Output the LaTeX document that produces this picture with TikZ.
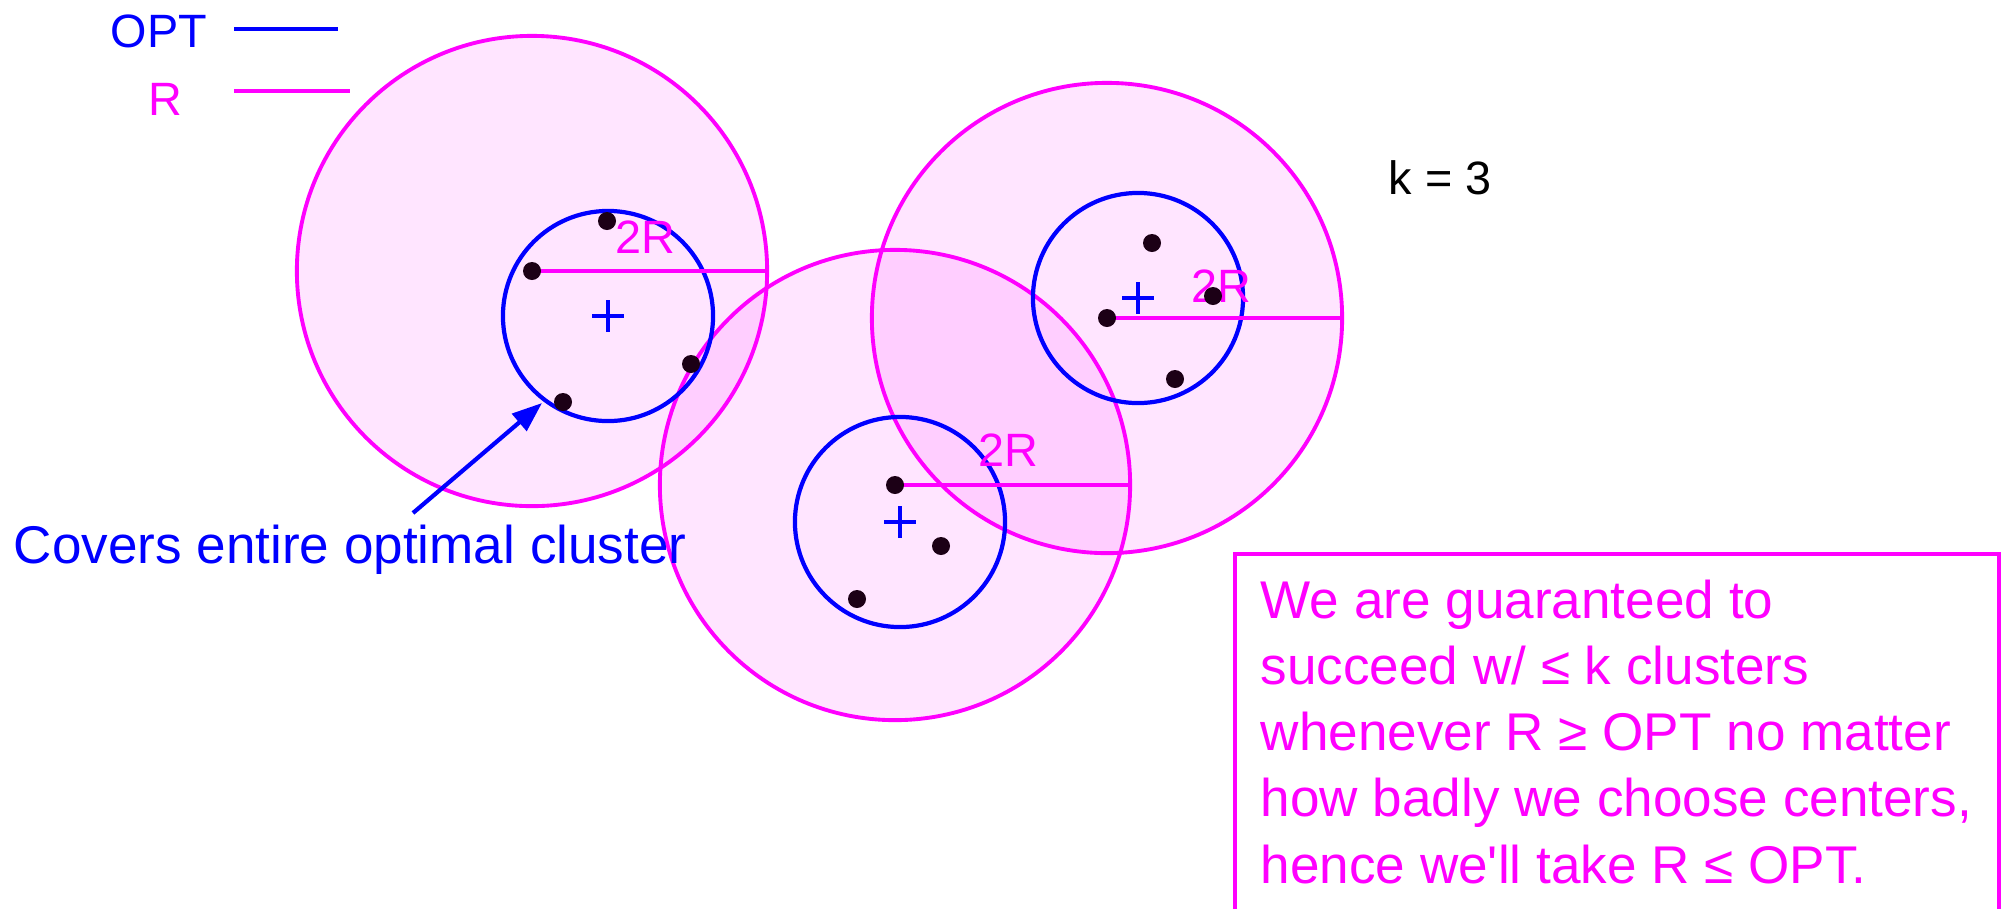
\documentclass[tikz,border=0pt]{standalone}
\usepackage{fontspec}
\setmainfont{Liberation Sans}[Ligatures=TeXReset]
\usetikzlibrary{arrows.meta}
\definecolor{BallMag}{RGB}{255,0,255}
\definecolor{OptBlue}{RGB}{0,0,255}
\definecolor{PtDark}{RGB}{28,0,22}
\tikzset{
  optball/.style={draw=OptBlue, line width=1.2pt},
  datapt/.style={circle, fill=PtDark, inner sep=0pt, minimum size=1.8mm},
  radline/.style={BallMag, line width=1.1pt},
  ctrmark/.style={OptBlue, line width=1pt},
  lblbig/.style={font=\fontsize{15.1}{18.8}\selectfont, inner sep=0pt},
  lblsmall/.style={font=\fontsize{13.3}{16}\selectfont, inner sep=0pt},
  pointer/.style={-{Triangle[length=3mm,width=2.2mm]}, OptBlue, line width=1.2pt},
}
\begin{document}
\begin{tikzpicture}[x=0.01cm, y=-0.01cm]
  \useasboundingbox (0,0) rectangle (2003,908);
  \clip (0,0) rectangle (2003,908);

  % legend
  \node[lblsmall, text=OptBlue, anchor=base west] (legopt) at (110,47) {OPT};
  \node[lblsmall, text=BallMag, anchor=base west] (legr) at (148,115) {R};
  \coordinate (legopta) at (234,29);
  \coordinate (legoptb) at (338,29);
  \coordinate (legra) at (234,91);
  \coordinate (legrb) at (350,91);
  \draw[OptBlue, line width=1.1pt] (legopta) -- (legoptb);
  \draw[BallMag, line width=1.1pt] (legra) -- (legrb);

  % points of the three optimal clusters
  \foreach \n/\px/\py in {a1/607/221, a2/532/271, a3/691/364, a4/563/402,
                          b1/895/485, b2/941/546, b3/857/599,
                          d1/1152/243, d2/1213/296, d3/1107/318, d4/1175/379}{
    \coordinate (\n) at (\px,\py);
  }
  % optimal centers
  \coordinate (c1) at (608,316);
  \coordinate (c2) at (900,522);
  \coordinate (c3) at (1138,298);

  % balls of radius 2R round the chosen points
  \fill[BallMag, opacity=0.1] (a2) circle[radius=2.35cm];
  \fill[BallMag, opacity=0.1] (b1) circle[radius=2.35cm];
  \fill[BallMag, opacity=0.1] (d3) circle[radius=2.35cm];
  \draw[radline] (a2) circle[radius=2.35cm];
  \draw[radline] (b1) circle[radius=2.35cm];
  \draw[radline] (d3) circle[radius=2.35cm];

  % optimal clusters
  \foreach \c in {c1,c2,c3}{
    \draw[optball] (\c) circle[radius=1.05cm];
    \draw[ctrmark] (\c) +(-16,0) -- +(16,0) +(0,-16) -- +(0,16);
  }

  % radii
  \coordinate (r1) at (767,271);
  \coordinate (r2) at (1130,485);
  \coordinate (r3) at (1342,318);
  \draw[radline] (a2) -- (r1);
  \draw[radline] (b1) -- (r2);
  \draw[radline] (d3) -- (r3);
  \node[lblsmall, text=BallMag] (tworone) at (645,237) {2R};
  \node[lblsmall, text=BallMag] (tworb) at (1008,450) {2R};
  \node[lblsmall, text=BallMag] (tworc) at (1221,286) {2R};

  \foreach \n in {a1,a2,a3,a4,b1,b2,b3,d1,d2,d3,d4}{
    \node[datapt] (pt\n) at (\n) {};
  }

  % annotation
  \node[lblbig, text=OptBlue, anchor=base west] (covers) at (13,563) {Covers entire optimal cluster};
  \coordinate (ptrtail) at (413,513);
  \coordinate (ptrtip) at (542,403);
  \draw[pointer] (ptrtail) -- (ptrtip);

  \node[lblsmall, anchor=base west] (kval) at (1388,194) {k = 3};

  % note box
  \draw[BallMag, line width=1.1pt] (1235,554) rectangle (1999,940);
  \foreach \i/\txt in {0/{We are guaranteed to},
                       1/{succeed w/ ≤ k clusters},
                       2/{whenever R ≥ OPT no matter},
                       3/{how badly we choose centers,},
                       4/{hence we'll take R ≤ OPT.}}{
    \node[lblbig, text=BallMag, anchor=base west] (note\i) at (1260,618+\i*66.3) {\txt};
  }
\end{tikzpicture}
\end{document}
